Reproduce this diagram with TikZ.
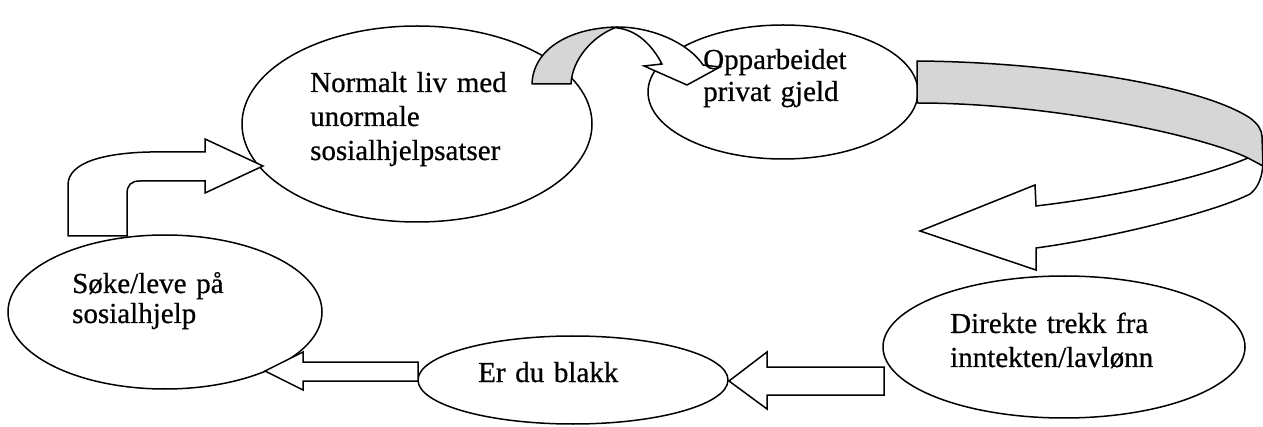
\documentclass[tikz,border=0pt]{standalone}
\usepackage{fontspec}
\setmainfont{Liberation Serif}[FakeBold=0.6]
\usetikzlibrary{shapes.geometric}
\begin{document}
\begin{tikzpicture}[x=1pt,y=-1pt,
  bubble/.style={draw, ellipse, line width=1.5pt, inner sep=0pt, fill=white},
  blockarrow/.style={draw, fill=white, line width=1.5pt, line join=miter},
  ribbon/.style={draw, fill=black!16, line width=1.5pt, line join=round},
  label/.style={anchor=base west, inner sep=0pt, text width=330pt, align=left}]
\useasboundingbox (0,0) rectangle (1263,427);
% ellipses
\node[bubble, minimum width=350pt, minimum height=196pt] (normal) at (417,124) {};
\node[bubble, minimum width=270pt, minimum height=134pt] (gjeld) at (783,92) {};
\node[bubble, minimum width=314pt, minimum height=154pt] (soke) at (165,312) {};
\node[bubble, minimum width=310pt, minimum height=88pt] (blakk) at (573,380) {};
\node[bubble, minimum width=362pt, minimum height=142pt] (trekk) at (1064,347) {};
% arrow: soke -> normal
\draw[blockarrow] (68,236) -- (68,185) .. controls (68,162) and (105,153) .. (150,152) -- (205,152) -- (205,139) -- (263,166) -- (205,193) -- (205,181) -- (140,181) .. controls (131,181) and (127,185) .. (127,194) -- (127,236) -- cycle;
% arrow: blakk -> soke
\draw[blockarrow] (418,362) -- (303,362) -- (303,352) -- (265,371) -- (303,390) -- (303,381) -- (418,381) -- cycle;
% arrow: trekk -> blakk
\draw[blockarrow] (884,367) -- (767,367) -- (767,352) -- (729,381) -- (767,409) -- (767,395) -- (884,395) -- cycle;
% arrow: normal -> gjeld
\draw[blockarrow] (617,27) .. controls (655,27) and (690,45) .. (703,65) -- (720,67) -- (687,85) -- (644,66) -- (662,64) .. controls (652,45) and (637,30) .. (617,28) -- cycle;
\draw[ribbon] (532,84) .. controls (533,50) and (568,28) .. (617,27) .. controls (592,36) and (572,60) .. (571,84) -- cycle;
% arrow: gjeld -> trekk
\draw[blockarrow] (1262,137) .. controls (1264,160) and (1265,182) .. (1250,194) .. controls (1215,212) and (1110,238) .. (1036,248) -- (1036,270) -- (920,231) -- (1035,185) -- (1036,206) .. controls (1120,196) and (1200,178) .. (1248,158) -- cycle;
\draw[ribbon] (917,61) .. controls (1050,62) and (1200,85) .. (1250,118) .. controls (1258,124) and (1262,130) .. (1262,137) -- (1263,166) -- (1248,158) .. controls (1200,135) and (1050,103) .. (917,103) -- cycle;
% texts
\node[label, font=\fontsize{29}{34}\selectfont] (tnormal) at (310,92) {Normalt liv med\\unormale\\sosialhjelpsatser};
\node[label, font=\fontsize{29}{32}\selectfont] (tgjeld) at (703,69) {Opparbeidet\\privat gjeld};
\node[label, font=\fontsize{29}{30}\selectfont] (tsoke) at (72,293) {Søke/leve på\\sosialhjelp};
\node[label, font=\fontsize{29}{34}\selectfont] (tblakk) at (478,382) {Er du blakk};
\node[label, font=\fontsize{29}{34}\selectfont] (ttrekk) at (950,333) {Direkte trekk fra\\inntekten/lavlønn};
\end{tikzpicture}
\end{document}
